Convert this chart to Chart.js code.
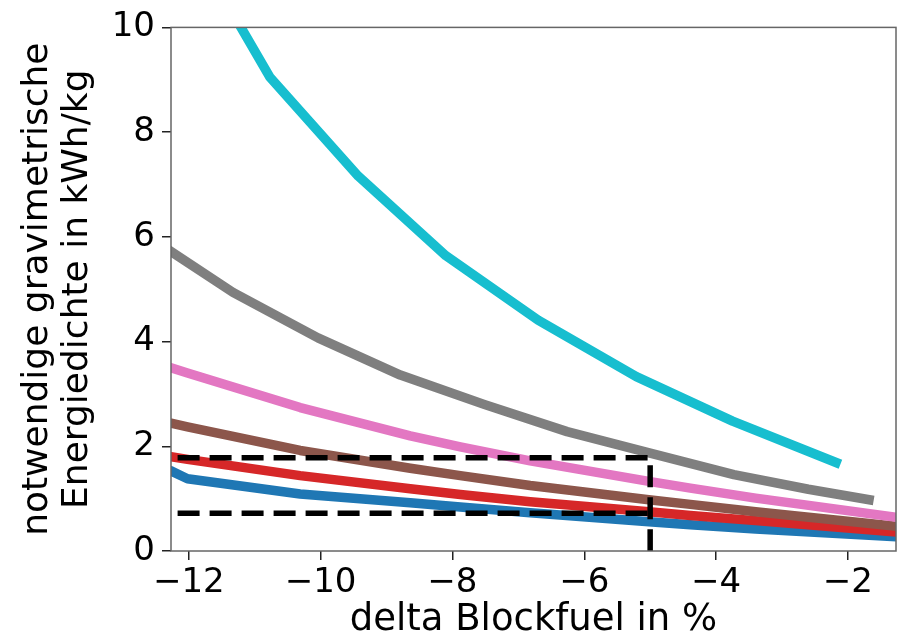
<!DOCTYPE html>
<html>
<head>
<meta charset="utf-8">
<script src="https://cdn.jsdelivr.net/npm/chart.js@4.4.1/dist/chart.umd.min.js"></script>
<style>
  html, body { margin: 0; padding: 0; background: #fff; }
  #wrap { width: 898px; height: 640px; }
</style>
</head>
<body>
<div id="wrap"><canvas id="energyChart"></canvas></div>
<script>
// delta blockfuel (%) vs. required gravimetric energy density (kWh/kg)
const cyanX = [-12.27, -10.77, -9.43, -8.10, -6.70, -5.21, -3.75, -2.18];
const cyanY = [12.3, 9.05, 7.16, 5.64, 4.41, 3.33, 2.48, 1.69];

const grayX = [-12.27, -11.33, -10.04, -8.79, -7.52, -6.26, -5.00, -3.73, -2.60, -1.68];
const grayY = [5.72, 4.94, 4.07, 3.36, 2.80, 2.28, 1.87, 1.46, 1.18, 0.98];

// the four lower curves share their x positions
const lowX   = [-12.27, -12.02, -10.31, -8.64, -7.88, -6.82, -5.02, -4.39, -3.40, -1.24];
const pinkY  = [3.50, 3.40, 2.74, 2.20, 1.99, 1.72, 1.33, 1.20, 1.01, 0.64];
const brownY = [2.44, 2.37, 1.92, 1.58, 1.44, 1.25, 0.98, 0.89, 0.75, 0.47];
const redY   = [1.80, 1.75, 1.44, 1.19, 1.08, 0.94, 0.75, 0.68, 0.58, 0.36];
const blueY  = [1.53, 1.38, 1.09, 0.92, 0.84, 0.73, 0.56, 0.50, 0.42, 0.27];

// dashed reference box at -5 %
const refUpperX = [-12.17, -5, -5];
const refUpperY = [1.78, 1.78, 0];
const refLowerX = [-12.17, -5];
const refLowerY = [0.72, 0.72];

const xTicks = [-12, -10, -8, -6, -4, -2];
const yTicks = [0, 2, 4, 6, 8, 10];

const pts = (xs, ys) => xs.map((x, i) => ({ x: x, y: ys[i] }));

const curve = (label, xs, ys, color) => ({
  label: label,
  data: pts(xs, ys),
  borderColor: color,
  borderWidth: 9.5,
  borderCapStyle: 'square',
  borderJoinStyle: 'round',
  pointRadius: 0,
  tension: 0,
  fill: false
});

const dashed = (label, xs, ys) => ({
  label: label,
  data: pts(xs, ys),
  borderColor: '#000',
  borderWidth: 5.5,
  borderDash: [22, 10],
  borderCapStyle: 'butt',
  borderJoinStyle: 'miter',
  pointRadius: 0,
  tension: 0,
  fill: false
});

const fmt = v => (v < 0 ? '\u2212' + Math.abs(v) : String(v));

// matplotlib-style box around the plot area
const frame = {
  id: 'frame',
  afterDatasetsDraw(chart) {
    const { ctx, chartArea: a } = chart;
    ctx.save();
    ctx.strokeStyle = '#666';
    ctx.lineWidth = 1.5;
    ctx.strokeRect(a.left, a.top, a.right - a.left, a.bottom - a.top);
    ctx.restore();
  }
};

const font = 'DejaVu Sans';

new Chart(document.getElementById('energyChart'), {
  type: 'line',
  data: {
    datasets: [
      dashed('ref upper', refUpperX, refUpperY),
      dashed('ref lower', refLowerX, refLowerY),
      curve('cyan', cyanX, cyanY, '#17becf'),
      curve('gray', grayX, grayY, '#7f7f7f'),
      curve('pink', lowX, pinkY, '#e377c2'),
      curve('brown', lowX, brownY, '#8c564b'),
      curve('red', lowX, redY, '#d62728'),
      curve('blue', lowX, blueY, '#1f77b4')
    ]
  },
  options: {
    responsive: true,
    maintainAspectRatio: false,
    devicePixelRatio: 1,
    animation: false,
    layout: { padding: { top: 23, right: 2, left: 0, bottom: 0 } },
    plugins: {
      legend: { display: false },
      tooltip: { enabled: false }
    },
    scales: {
      x: {
        type: 'linear',
        min: -12.27,
        max: -1.27,
        afterBuildTicks: s => { s.ticks = xTicks.map(v => ({ value: v })); },
        afterFit: s => { s.height = 89; },
        border: { display: false },
        grid: { drawOnChartArea: false, drawTicks: true, tickLength: 9, tickColor: '#222', lineWidth: 1.5 },
        ticks: {
          color: '#000',
          padding: 3,
          maxRotation: 0,
          font: { family: font, size: 34 },
          callback: v => fmt(v)
        },
        title: {
          display: true,
          text: 'delta Blockfuel in %',
          color: '#000',
          font: { family: font, size: 37, lineHeight: 1.0 },
          padding: { top: 0, bottom: 1 }
        }
      },
      y: {
        type: 'linear',
        min: 0,
        max: 10,
        afterBuildTicks: s => { s.ticks = yTicks.map(v => ({ value: v })); },
        afterFit: s => { s.width = 171; },
        border: { display: false },
        grid: { drawOnChartArea: false, drawTicks: true, tickLength: 9, tickColor: '#222', lineWidth: 1.5 },
        ticks: {
          color: '#000',
          padding: 7,
          font: { family: font, size: 34 },
          callback: v => fmt(v)
        },
        title: {
          display: true,
          text: ['notwendige gravimetrische', 'Energiedichte in kWh/kg'],
          color: '#000',
          font: { family: font, size: 36, lineHeight: 1.111 },
          padding: { top: 18, bottom: 0 }
        }
      }
    }
  },
  plugins: [frame]
});
</script>
</body>
</html>
